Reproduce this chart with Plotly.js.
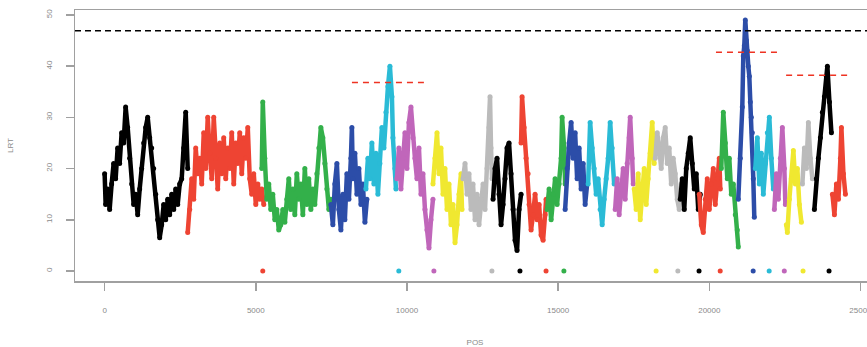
<!DOCTYPE html>
<html>
<head>
<meta charset="utf-8">
<script src="https://cdn.plot.ly/plotly-3.0.1.min.js"></script>
<style>
html,body{margin:0;padding:0;overflow:hidden;background:#fff;}
#chart{width:880px;height:347px;}
</style>
</head>
<body>
<div id="chart"></div>
<script>
// ---- data ----
const PALETTE = ['#000000','#ee4433','#33b04a','#2c4da8','#2abbd6','#c066ba','#f0e830','#bbbbbb'];

const segPos = [
 [0,33,99,166,232,298,364,430,497,563,629,695,762,828,894,960,1026,1093,1159,1225,1291,1358,1424,1490,1556,1622,1689,1755,1821,1887,1953,2020,2086,2152,2218,2285,2351,2417,2483,2549,2616,2682,2748],
 [2748,2814,2881,2947,3013,3079,3145,3212,3278,3344,3410,3477,3543,3609,3675,3741,3808,3874,3940,4006,4073,4139,4205,4271,4337,4404,4470,4536,4602,4669,4735,4801,4867,4933,5000,5066,5132,5198,5264],
 [5198,5231,5298,5364,5430,5496,5562,5629,5695,5761,5827,5894,5960,6026,6092,6158,6225,6291,6357,6423,6490,6556,6622,6688,6754,6821,6887,6953,7019,7086,7152,7218,7284,7350,7417,7483],
 [7483,7549,7615,7682,7748,7814,7880,7946,8013,8079,8145,8178,8211,8278,8344,8410,8476,8542,8609,8675],
 [8642,8708,8774,8840,8907,8973,9039,9105,9171,9238,9304,9370,9436,9502,9536,9602,9635],
 [9668,9734,9801,9867,9933,9999,10065,10132,10198,10264,10330,10397,10463,10529,10595,10661,10728,10794,10860],
 [10860,10926,10993,11059,11125,11191,11257,11324,11390,11456,11522,11589,11655,11721,11787,11820],
 [11853,11920,11986,12052,12118,12184,12251,12317,12383,12449,12516,12582,12648,12714,12747,12780,12814],
 [12847,12913,12979,13045,13112,13178,13244,13310,13376,13443,13509,13575,13641,13708,13774],
 [13774,13807,13873,13939,14006,14039,14105,14171,14237,14304,14370,14436,14502,14568,14602],
 [14635,14701,14768,14834,14900,14966,15032,15098,15131,15197,15231],
 [15231,15297,15363,15429,15495,15562,15628,15694,15760,15827,15893,15959],
 [15992,16058,16125,16191,16257,16323,16389,16456,16522,16588,16654,16721,16787,16853],
 [16886,16952,17018,17085,17151,17217,17283,17350,17383,17449,17482],
 [17515,17581,17648,17714,17780,17846,17913,17979,18045,18111,18177],
 [18211,18277,18343,18409,18475,18542,18608,18674,18740,18806,18873,18939,19005,19071],
 [19038,19104,19171,19237,19303,19369,19436,19502,19568,19634,19700],
 [19667,19734,19800,19866,19932,19998,20065,20131,20197,20263,20330,20363],
 [20396,20462,20529,20595,20661,20727,20793,20859,20926,20959],
 [20959,21025,21091,21124,21157,21190,21224,21257,21290,21323,21356,21389,21422,21455,21488],
 [21522,21588,21654,21720,21786,21853,21919,21985,22051,22117],
 [22151,22217,22283,22349,22415,22482,22515],
 [22548,22581,22647,22713,22780,22846,22912,22978,23045],
 [23078,23144,23210,23276,23343,23409],
 [23475,23541,23607,23674,23740,23806,23872,23905,23972,24038],
 [24071,24137,24203,24270,24336,24369,24435,24501]
];

const segLRT = [
 [19,13,16,12,17,21,18,24,21,27,25,32,28,22,17,13,15,11,16,20,25,28,30,26,24,20,15,10,6.5,9,13,10,14,11,15,12,16,13,17,18,24,31,20],
 [7.5,12,18,14,24,19,22,17,27,20,30,23,18,30,22,16,25,19,26,18,24,20,27,17,25,21,27,19,26,22,28,18,15,19,13,17,14,16,13],
 [20,33,22,14,17,12,15,10,12,8,9,12,9.5,14,18,12,16,11,19,14,17,11,20,13,18,12,16,13,19,24,28,26,21,16,12,14],
 [13,9,17,21,12,8,15,10,19,14,22,28,18,23,15,20,13,17,9.5,14],
 [16,22,18,25,17,23,15,21,28,24,31,36,40,34,26,20,16],
 [18,24,16,22,27,20,29,32,26,22,18,24,15,19,12,8,4.5,10,14],
 [17,22,27,19,24,15,20,12,17,9,13,5.5,9,15,19,12],
 [18,21,15,19,12,17,10,15,9,14,17,12,20,28,34,24,18],
 [14,20,22,15,9,13,18,24,25,19,12,6,4,12,15],
 [25,34,28,22,19,13,8,11,15,10,13,7,6,11,14],
 [12,16,10,15,18,13,17,22,30,24,17],
 [12,20,25,29,22,27,18,24,16,21,13,17],
 [17,29,24,20,15,18,12,9,14,18,22,29,24,17],
 [12,18,11,16,20,14,21,26,30,22,17],
 [16,12,19,10,15,20,13,18,23,29,21],
 [22,27,24,20,26,28,21,24,17,22,19,14,12,17],
 [14,18,12,20,23,26,21,16,19,12,15],
 [15,9,7.5,14,18,12,17,20,13,18,22,16],
 [20,31,25,18,22,15,17,11,8,4.7],
 [14,22,32,42,44,49,45,43,40,38,33,30,27,18,10.5],
 [20,26,17,23,15,21,27,30,22,16],
 [12,19,14,22,28,20,13],
 [9,7.5,14,18,23.5,17,20,13,9.5],
 [17,24,20,29,22,18],
 [12,18,22,26,31,34,38,40,33,27],
 [15,11,17,14,22,28,19,15]
];

// coloured markers at LRT = 0
const markPos = [5230,9730,10890,12810,13737,14600,15190,18240,18960,19660,20360,21450,21980,22480,23100,23960];
const markColorIdx = [1,4,5,7,0,1,2,6,7,0,1,3,4,5,6,0];
const markLRT = markPos.map(() => 0);

// genome-wide threshold and local thresholds
const THRESHOLD = 46.9;
const localStart = [8180,20220,22540];
const localEnd = [10560,22380,24690];
const localLevel = [36.8,42.7,38.2];

const X_TICKS = [0,5000,10000,15000,20000,25000];
const Y_TICKS = [0,10,20,30,40,50];

// ---- traces ----
const traces = [];
segPos.forEach((xs, i) => {
  const c = PALETTE[i % PALETTE.length];
  traces.push({
    x: xs, y: segLRT[i], type: 'scatter', mode: 'lines+markers',
    line: {color: c, width: 4.5},
    marker: {color: c, size: 5},
    hoverinfo: 'skip', showlegend: false
  });
});

traces.push({
  x: markPos, y: markLRT, type: 'scatter', mode: 'markers',
  marker: {color: markColorIdx.map(k => PALETTE[k]), size: 5},
  showlegend: false, hoverinfo: 'skip'
});

localStart.forEach((s, i) => {
  traces.push({
    x: [s, localEnd[i]], y: [localLevel[i], localLevel[i]],
    type: 'scatter', mode: 'lines',
    line: {color: '#ee3322', width: 1.5, dash: '6px,5px'},
    showlegend: false, hoverinfo: 'skip'
  });
});

const axisCommon = {
  showgrid: false, zeroline: false, showline: true, mirror: true,
  linecolor: '#a0a0a0', linewidth: 1.5,
  ticks: 'outside', ticklen: 8, tickwidth: 1.5, tickcolor: '#a0a0a0',
  tickfont: {family: 'Liberation Sans, Arial, sans-serif', size: 8, color: '#8a8a8a'}
};

const layout = {
  width: 880, height: 347,
  margin: {l: 75, r: 5, t: 10, b: 66},
  paper_bgcolor: '#ffffff', plot_bgcolor: '#ffffff',
  xaxis: Object.assign({}, axisCommon, {
    range: [-980, 25480], tickmode: 'array', tickvals: X_TICKS,
    ticktext: X_TICKS.map(String), ticklabelstandoff: 13,
    title: {text: 'POS', standoff: 25, font: {family: 'Liberation Sans, Arial, sans-serif', size: 8, color: '#8a8a8a'}}
  }),
  yaxis: Object.assign({}, axisCommon, {
    range: [-1.96, 50.96], tickmode: 'array', tickvals: Y_TICKS,
    ticktext: Y_TICKS.map(String), tickangle: -90, ticklabelstandoff: 10,
    title: {text: 'LRT', standoff: 30, font: {family: 'Liberation Sans, Arial, sans-serif', size: 8, color: '#8a8a8a'}}
  }),
  shapes: [{
    type: 'line', xref: 'paper', x0: 0, x1: 1, yref: 'y', y0: THRESHOLD, y1: THRESHOLD,
    line: {color: '#000000', width: 1.6, dash: '6px,4px'}
  }]
};

Plotly.newPlot('chart', traces, layout, {displayModeBar: false, staticPlot: true});
</script>
</body>
</html>
